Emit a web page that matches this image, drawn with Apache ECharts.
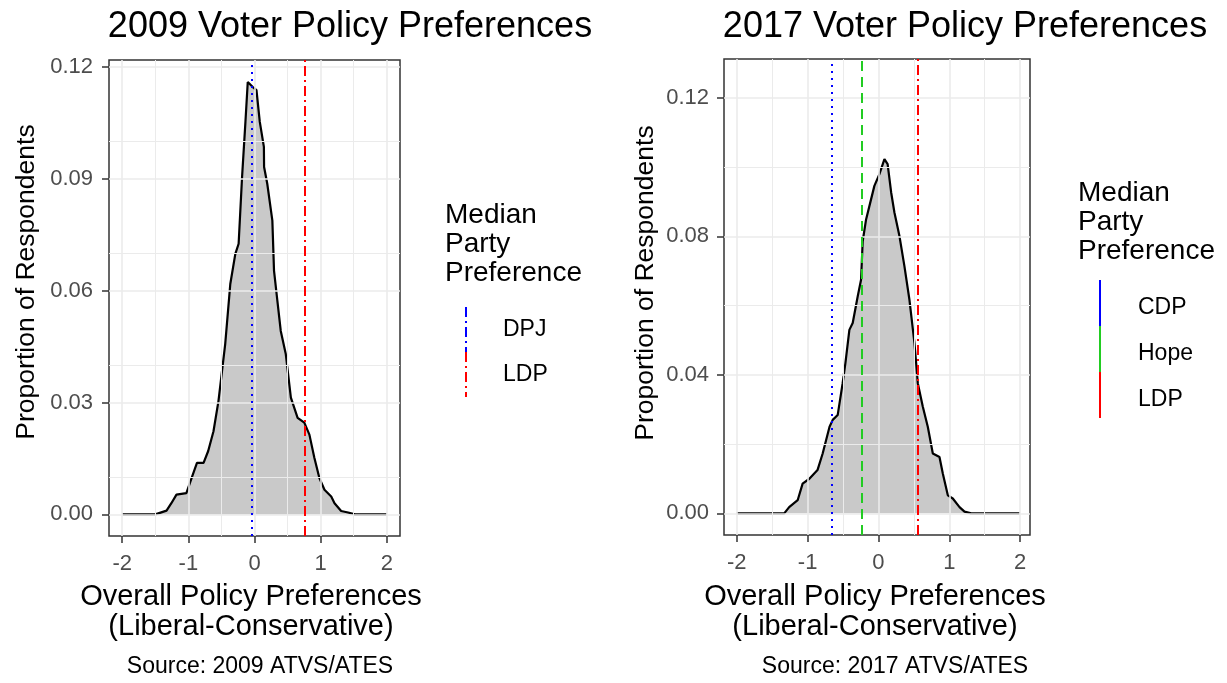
<!DOCTYPE html>
<html>
<head>
<meta charset="utf-8">
<script src="https://cdn.jsdelivr.net/npm/echarts@6/dist/echarts.min.js"></script>
<style>html,body{margin:0;padding:0;background:#fff;}#c{width:1227px;height:683px;}</style>
</head>
<body>
<div id="c"></div>
<script>
// ---- data ----
const xTicks = [-2, -1, 0, 1, 2];
const xMinor = [-1.5, -0.5, 0.5, 1.5];
const yTicks2009 = [0, 0.03, 0.06, 0.09, 0.12];
const yMinor2009 = [0.015, 0.045, 0.075, 0.105];
const yTicks2017 = [0, 0.04, 0.08, 0.12];
const yMinor2017 = [0.02, 0.06, 0.10];

const x2009 = [-2, -1.5, -1.33, -1.257, -1.18, -1.03, -0.95, -0.87, -0.77, -0.70, -0.62, -0.545, -0.443, -0.366, -0.29, -0.24, -0.188, -0.137, -0.102, -0.03, 0.03, 0.08, 0.142, 0.145, 0.193, 0.27, 0.295, 0.346, 0.397, 0.473, 0.55, 0.652, 0.753, 0.83, 0.905, 0.98, 1.058, 1.16, 1.21, 1.31, 1.415, 1.52, 2];
const y2009 = [0, 0, 0.001, 0.003, 0.0053, 0.0057, 0.0098, 0.0138, 0.0138, 0.017, 0.0223, 0.0304, 0.0457, 0.0618, 0.0699, 0.0726, 0.0905, 0.1053, 0.116, 0.1147, 0.1138, 0.1053, 0.0986, 0.0932, 0.0887, 0.0788, 0.0654, 0.0573, 0.0492, 0.043, 0.0313, 0.0259, 0.0246, 0.0214, 0.0152, 0.0098, 0.0066, 0.0048, 0.003, 0.0009, 0.0005, 0, 0];

const x2017 = [-2, -1.33, -1.26, -1.14, -1.07, -0.975, -0.86, -0.787, -0.69, -0.645, -0.575, -0.505, -0.466, -0.41, -0.363, -0.292, -0.245, -0.222, -0.174, -0.104, -0.057, 0.014, 0.085, 0.13, 0.18, 0.226, 0.297, 0.367, 0.438, 0.509, 0.556, 0.627, 0.697, 0.768, 0.862, 0.909, 0.98, 1.05, 1.145, 1.215, 1.31, 2];
const y2017 = [0, 0, 0.0018, 0.0038, 0.0086, 0.01, 0.0125, 0.0173, 0.025, 0.027, 0.0284, 0.0376, 0.0434, 0.053, 0.055, 0.0627, 0.0675, 0.0786, 0.0849, 0.0907, 0.0946, 0.098, 0.1023, 0.1009, 0.0927, 0.0869, 0.0801, 0.0714, 0.0617, 0.0492, 0.0376, 0.0308, 0.025, 0.0173, 0.0163, 0.0115, 0.0052, 0.0043, 0.0018, 0.0005, 0, 0];

const parties2009 = ['DPJ', 'LDP'];
const medians2009 = [-0.04, 0.76];
const parties2017 = ['CDP', 'Hope', 'LDP'];
const medians2017 = [-0.66, -0.24, 0.55];

// ---- styles ----
const FONT = '"Liberation Sans", Arial, sans-serif';
const partyColor = { DPJ: '#0000FF', CDP: '#0000FF', Hope: '#22CC22', LDP: '#FF0000' };
const partyDash2009 = { DPJ: [2, 5], LDP: [10, 4, 2, 4] };
const partyDash2017 = { CDP: [2, 5], Hope: [10, 6], LDP: [10, 4, 2, 4] };

function zip(xs, ys) { return xs.map((x, i) => [x, ys[i]]); }

function gridLines(xIdx, majX, minX, majY, minY) {
  const d = [];
  minX.forEach(v => d.push({ xAxis: v, lineStyle: { width: 1 } }));
  minY.forEach(v => d.push({ yAxis: v, lineStyle: { width: 1 } }));
  majX.forEach(v => d.push({ xAxis: v, lineStyle: { width: 1.6 } }));
  majY.forEach(v => d.push({ yAxis: v, lineStyle: { width: 1.6 } }));
  return {
    type: 'line', xAxisIndex: xIdx, yAxisIndex: xIdx, data: [], z: 0, silent: true,
    markLine: { silent: true, symbol: 'none', animation: false, label: { show: false },
      lineStyle: { color: '#EBEBEB', type: 'solid' }, data: d }
  };
}

function densitySeries(idx, xs, ys) {
  return {
    type: 'line', xAxisIndex: idx, yAxisIndex: idx, data: zip(xs, ys), z: 2,
    symbol: 'none', smooth: false, animation: false,
    lineStyle: { color: '#000', width: 2.2 },
    areaStyle: { color: '#C9C9C9', opacity: 1 }
  };
}

function medianSeries(idx, parties, meds, dashes) {
  return {
    type: 'line', xAxisIndex: idx, yAxisIndex: idx, data: [], z: 3, silent: true,
    markLine: { silent: true, symbol: 'none', animation: false, label: { show: false },
      data: parties.map((p, i) => ({ xAxis: meds[i], lineStyle: { color: partyColor[p], width: 2, type: dashes[p] } })) }
  };
}

function xAxisDef(idx, min, max) {
  return {
    type: 'value', gridIndex: idx, min: min, max: max,
    axisLine: { show: false, onZero: false },
    axisTick: { show: true, length: 7, customValues: xTicks, lineStyle: { color: '#333', width: 1.5 } },
    axisLabel: { customValues: xTicks, margin: 17, color: '#4D4D4D', fontSize: 22, fontFamily: FONT, formatter: v => String(v) },
    splitLine: { show: false }
  };
}
function yAxisDef(idx, min, max, ticks, margin) {
  return {
    type: 'value', gridIndex: idx, min: min, max: max,
    axisLine: { show: false, onZero: false },
    axisTick: { show: true, length: 7, customValues: ticks, lineStyle: { color: '#333', width: 1.5 } },
    axisLabel: { customValues: ticks, margin: margin, color: '#4D4D4D', fontSize: 22, fontFamily: FONT, formatter: v => v.toFixed(2) },
    splitLine: { show: false }
  };
}

function txt(text, x, y, size, opts) {
  opts = opts || {};
  return { type: 'text', x: x, y: y, rotation: opts.rot || 0, z: 10,
    style: { text: text, font: size + 'px ' + FONT, fill: opts.fill || '#000',
      align: opts.align || 'center', verticalAlign: 'middle', lineHeight: opts.lh || size } };
}
function seg(x, y1, y2, color, dash) {
  return { type: 'line', z: 10, shape: { x1: x, y1: y1, x2: x, y2: y2 },
    style: { stroke: color, lineWidth: 2, lineDash: dash || null } };
}

const graphics = [
  txt('2009 Voter Policy Preferences', 350, 27, 36),
  txt('2017 Voter Policy Preferences', 965, 27, 36),
  txt('Proportion of Respondents', 27, 282, 26.5, { rot: Math.PI / 2 }),
  txt('Proportion of Respondents', 646, 283, 26.5, { rot: Math.PI / 2 }),
  txt('Overall Policy Preferences\n(Liberal-Conservative)', 251, 612, 29, { lh: 30 }),
  txt('Overall Policy Preferences\n(Liberal-Conservative)', 875, 612, 29, { lh: 30 }),
  txt('Source: 2009 ATVS/ATES', 260, 667, 23),
  txt('Source: 2017 ATVS/ATES', 895, 667, 23),
  txt('Median\nParty\nPreference', 445, 244, 28, { align: 'left', lh: 29 }),
  txt('Median\nParty\nPreference', 1078, 222, 28, { align: 'left', lh: 29 })
];
// legend 2009
parties2009.forEach((p, i) => {
  const y0 = 307 + i * 45;
  graphics.push(seg(466, y0, y0 + 45, partyColor[p], [10, 4, 2, 4]));
  graphics.push(txt(p, 503, y0 + 23, 23, { align: 'left' }));
});
// legend 2017
parties2017.forEach((p, i) => {
  const y0 = 280 + i * 46;
  graphics.push(seg(1100, y0, y0 + 46, partyColor[p]));
  graphics.push(txt(p, 1138, y0 + 28, 23, { align: 'left' }));
});

const chart = echarts.init(document.getElementById('c'), null, { renderer: 'canvas' });
chart.setOption({
  animation: false,
  backgroundColor: '#fff',
  grid: [
    { left: 109, top: 60, width: 291, height: 476, show: true, borderColor: '#333', borderWidth: 1.5, backgroundColor: '#fff', containLabel: false },
    { left: 724, top: 59, width: 306, height: 476, show: true, borderColor: '#333', borderWidth: 1.5, backgroundColor: '#fff', containLabel: false }
  ],
  xAxis: [xAxisDef(0, -2.2, 2.2), xAxisDef(1, -2.18, 2.14)],
  yAxis: [yAxisDef(0, -0.0058, 0.1219, yTicks2009, 16), yAxisDef(1, -0.00625, 0.13125, yTicks2017, 15)],
  series: [
    gridLines(0, xTicks, xMinor, yTicks2009, yMinor2009),
    gridLines(1, xTicks, xMinor, yTicks2017, yMinor2017),
    densitySeries(0, x2009, y2009),
    densitySeries(1, x2017, y2017),
    medianSeries(0, parties2009, medians2009, partyDash2009),
    medianSeries(1, parties2017, medians2017, partyDash2017)
  ],
  graphic: graphics
});
</script>
</body>
</html>
